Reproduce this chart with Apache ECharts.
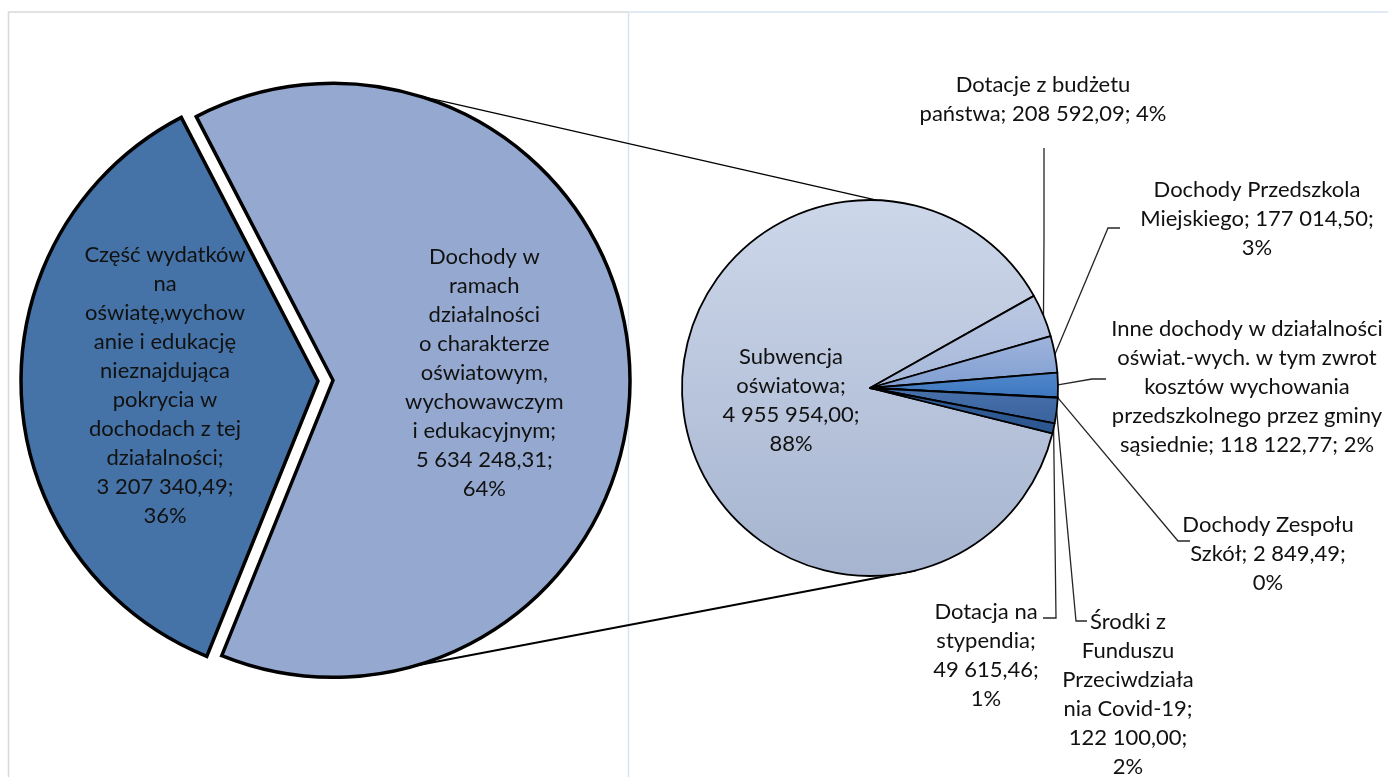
<!DOCTYPE html>
<html><head><meta charset="utf-8">
<script src="https://cdn.jsdelivr.net/npm/echarts@6/dist/echarts.min.js"></script>
<style>html,body{margin:0;padding:0;background:#fff}#c{width:1388px;height:777px}</style>
</head><body><div id="c"></div>
<script>
// ---- data ----
const outerNames = [
  'Część wydatków\nna\noświatę,wychow\nanie i edukację\nnieznajdująca\npokrycia w\ndochodach z tej\ndziałalności',
  'Dochody w\nramach\ndziałalności\no charakterze\noświatowym,\nwychowawczym\ni edukacyjnym'
];
const outerValues = [3207340.49, 5634248.31];

const innerNames = [
  'Subwencja\noświatowa',
  'Dotacje z budżetu\npaństwa',
  'Dochody Przedszkola\nMiejskiego',
  'Inne dochody w działalności\noświat.-wych. w tym zwrot\nkosztów wychowania\nprzedszkolnego przez gminy\nsąsiednie',
  'Dochody Zespołu\nSzkół',
  'Środki z\nFunduszu\nPrzeciwdziała\nnia Covid-19',
  'Dotacja na\nstypendia'
];
const innerValues = [4955954.00, 208592.09, 177014.50, 118122.77, 2849.49, 122100.00, 49615.46];

// ---- formatting helpers ----
function fmt(v){
  let [i,d] = v.toFixed(2).split('.');
  i = i.replace(/\B(?=(\d{3})+(?!\d))/g,' ');
  return i + ',' + d;
}
const outerSep = [[';\n',';\n'],[';\n',';\n']];
const innerSep = [[';\n',';\n'],['; ','; '],['; ',';\n'],['; ','; '],['; ',';\n'],[';\n',';\n'],[';\n',';\n']];
function makeLabel(names, values, seps){
  const tot = values.reduce((a,b)=>a+b,0);
  return names.map((n,i)=> n + seps[i][0] + fmt(values[i]) + seps[i][1] + Math.round(values[i]/tot*100) + '%');
}
const outerLabels = makeLabel(outerNames, outerValues, outerSep);
const innerLabels = makeLabel(innerNames, innerValues, innerSep);

// ---- geometry / style ----
const L = {cx:318, cy:381, r:297, start:248, off:15};
const R = {cx:870, cy:388, r:188, start:346};
const G = echarts.graphic.LinearGradient;
const lg = (a,b)=> new G(0,0,0,1,[{offset:0,color:a},{offset:1,color:b}]);
const innerColors = [
  lg('#cdd7ea','#a6b4cf'),
  lg('#bcc9e3','#a6b7d9'),
  lg('#9fb4db','#7f9ed2'),
  lg('#5289cc','#3d76bf'),
  lg('#4070ae','#3a68a6'),
  lg('#4871ab','#39639d'),
  lg('#335f99','#2b558f')
];
const outerColors = ['#4573a7','#95a9d0'];

const font = {fontFamily:'Lato', fontSize:22, lineHeight:29, color:'#111111'};

const outerLabelPos = [[165,385],[448,390]];
const innerLabelPos = [[791,400],[1043,99],[1257,219],[1247,387],[1268,554],[1128,694],[986,655]];
// leader elbows / ends (label-side anchor points)
const innerLeader = [
  null,
  [[1044,240],[1044,148]],
  [[1108,228],[1120,228]],
  [[1092,379],[1106,379]],
  [[1178,541],[1190,541]],
  [[1076,621],[1087,621]],
  [[1056,618],[1043,618]]
];

function midPoint(values, idx, geo){
  const tot = values.reduce((a,b)=>a+b,0);
  let cum = 0; for(let i=0;i<idx;i++) cum += values[i];
  const a = (geo.start - 360*(cum + values[idx]/2)/tot) * Math.PI/180;
  return [geo.cx + geo.r*Math.cos(a), geo.cy - geo.r*Math.sin(a)];
}
function onCircle(cx,cy,r,deg){const a=deg*Math.PI/180;return [cx+r*Math.cos(a), cy-r*Math.sin(a)];}

// light slice centre (after explosion along its bisector)
const tot0 = outerValues[0]+outerValues[1];
const lightMid = (L.start - 360*(outerValues[0] + outerValues[1]/2)/tot0)*Math.PI/180;
const lcx = L.cx + L.off*Math.cos(lightMid), lcy = L.cy - L.off*Math.sin(lightMid);
const cTop1 = onCircle(lcx,lcy,L.r,74), cBot1 = onCircle(lcx,lcy,L.r,-74);
const cTop2 = onCircle(R.cx,R.cy,R.r,88), cBot2 = onCircle(R.cx,R.cy,R.r,-76);

const chart = echarts.init(document.getElementById('c'));
chart.setOption({
  animation:false,
  backgroundColor:'#ffffff',
  graphic:[
    {type:'polyline', z:0, shape:{points:[[628,12],[8.5,12],[8.5,790]]}, style:{stroke:'#d9d9d9', lineWidth:1.5, fill:null}},
    {type:'polyline', z:0, shape:{points:[[628.5,790],[628.5,12],[1400,12]]}, style:{stroke:'#d5e3f1', lineWidth:1.5, fill:null}},
    {type:'line', z:1, shape:{x1:cTop1[0],y1:cTop1[1],x2:cTop2[0],y2:cTop2[1]}, style:{stroke:'#000', lineWidth:1.2}},
    {type:'line', z:1, shape:{x1:cBot1[0],y1:cBot1[1],x2:cBot2[0],y2:cBot2[1]}, style:{stroke:'#000', lineWidth:2}}
  ],
  series:[
    {
      type:'pie', z:3, center:[L.cx,L.cy], radius:L.r, startAngle:L.start, clockwise:true,
      selectedMode:'single', selectedOffset:L.off, avoidLabelOverlap:false, silent:true,
      emphasis:{disabled:true},
      itemStyle:{borderColor:'#000', borderWidth:3.5, borderJoin:'miter'},
      label:Object.assign({show:true, position:'inside', align:'center', width:300, overflow:'none',
        formatter:p=>outerLabels[p.dataIndex]}, font),
      labelLine:{show:false},
      labelLayout:p=>({x:outerLabelPos[p.dataIndex][0], y:outerLabelPos[p.dataIndex][1], align:'center', verticalAlign:'middle'}),
      data: outerValues.map((v,i)=>({value:v, name:outerNames[i], selected:i===1, itemStyle:{color:outerColors[i]}}))
    },
    {
      type:'pie', z:3, center:[R.cx,R.cy], radius:R.r, startAngle:R.start, clockwise:true,
      avoidLabelOverlap:false, silent:true, emphasis:{disabled:true},
      itemStyle:{borderColor:'#000', borderWidth:1.8},
      label:Object.assign({show:true, position:'outside', align:'center', width:330, overflow:'none',
        formatter:p=>innerLabels[p.dataIndex]}, font),
      labelLine:{show:true, length:20, length2:10, lineStyle:{color:'#262626', width:1.3}},
      labelLayout:p=>{
        const i = p.dataIndex;
        const o = {x:innerLabelPos[i][0], y:innerLabelPos[i][1], align:'center', verticalAlign:'middle'};
        if (innerLeader[i]) {
          const s = midPoint(innerValues, i, R);
          o.labelLinePoints = [s, innerLeader[i][0], innerLeader[i][1]];
        }
        return o;
      },
      data: innerValues.map((v,i)=>({value:v, name:innerNames[i], itemStyle:{color:innerColors[i]},
        label: i===0 ? {position:'inside'} : undefined,
        labelLine: i===0 ? {show:false} : undefined}))
    }
  ]
});
</script>
</body></html>
